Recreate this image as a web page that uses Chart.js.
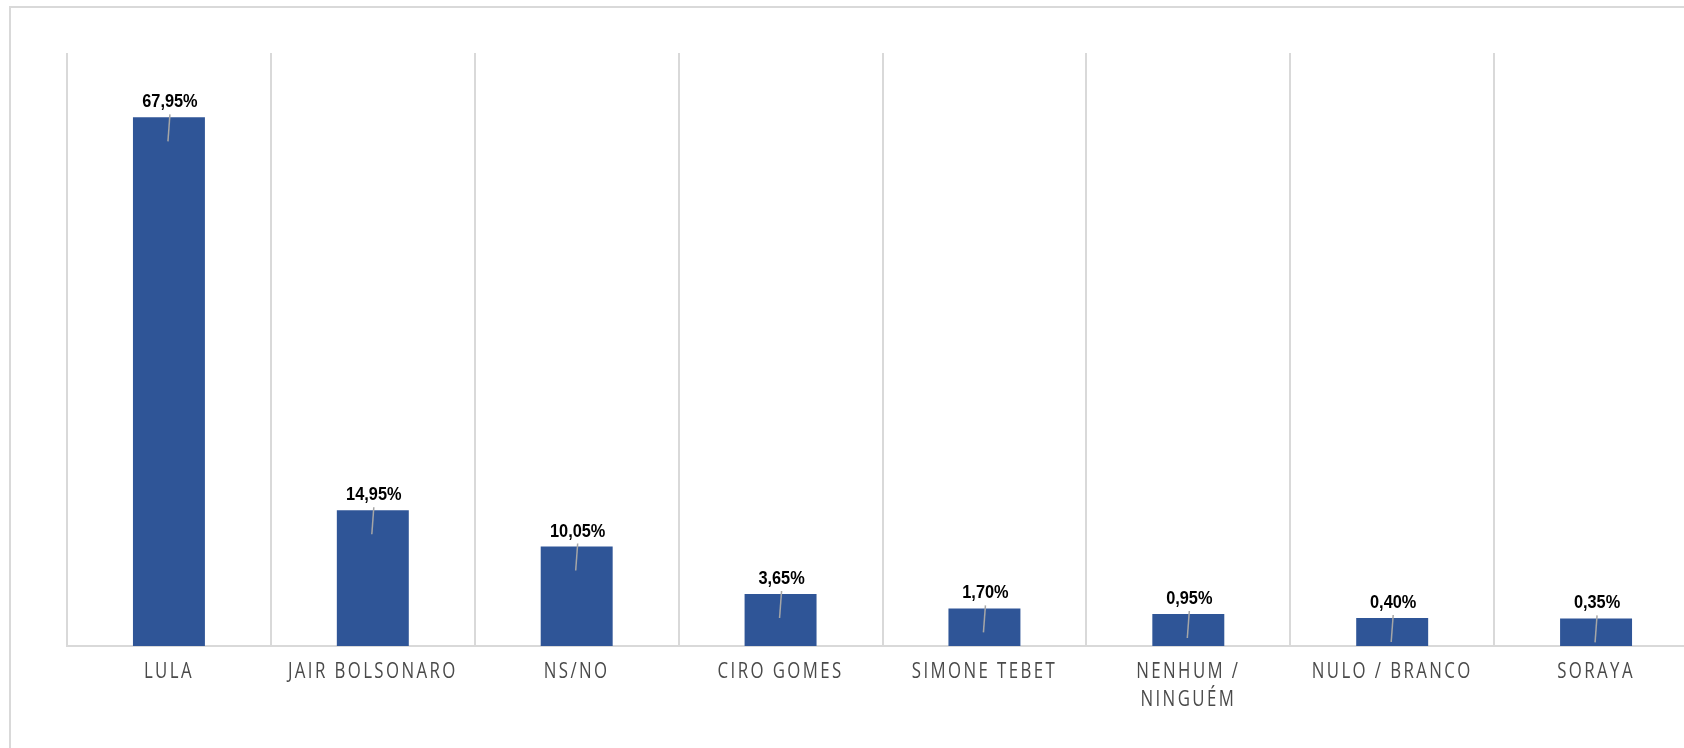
<!DOCTYPE html>
<html><head><meta charset="utf-8">
<script src="https://cdn.jsdelivr.net/npm/chart.js@4.4.1/dist/chart.umd.min.js"></script>
<style>
html,body{margin:0;padding:0;background:#fff;overflow:hidden;width:1684px;height:748px;}
#frame{position:absolute;left:9px;top:6px;width:2000px;height:2000px;border-left:2px solid #d9d9d9;border-top:2px solid #d9d9d9;}
#c{position:absolute;left:0;top:0;}
</style></head><body>
<div id="frame"></div>
<canvas id="c" width="1720" height="748"></canvas>
<script>
// ---- data ----
const categories = ['LULA', 'JAIR BOLSONARO', 'NS/NO', 'CIRO GOMES', 'SIMONE TEBET', ['NENHUM /', 'NINGUÉM'], 'NULO / BRANCO', 'SORAYA'];
const values = [67.95, 14.95, 10.05, 3.65, 1.70, 0.95, 0.40, 0.35];
const axisMin = -3.37;
const axisMax = 76.63;

const fmt = v => v.toFixed(2).replace('.', ',') + '%';

// horizontally condensed, letter-spaced x tick labels
const squeezePlugin = {
  id: 'squeeze',
  afterLayout(chart) {
    const sc = chart.scales.x;
    if (sc.$patched) return;
    const orig = sc.drawLabels;
    sc.drawLabels = function (area) {
      const ctx = this.ctx;
      const of = ctx.fillText;
      const prevLS = ctx.letterSpacing;
      ctx.letterSpacing = '3px';
      ctx.fillText = function (t, x, y, mw) {
        ctx.save();
        ctx.translate(x, y);
        ctx.scale(0.8, 1);
        of.call(ctx, t, 0, 0);
        ctx.restore();
      };
      try { orig.call(this, area); }
      finally { ctx.fillText = of; ctx.letterSpacing = prevLS || '0px'; }
    };
    sc.$patched = true;
  }
};

const labelPlugin = {
  id: 'valueLabels',
  afterDatasetsDraw(chart) {
    const ctx = chart.ctx;
    const meta = chart.getDatasetMeta(0);
    meta.data.forEach((bar, i) => {
      const x = bar.x, y = bar.y;
      ctx.save();
      ctx.strokeStyle = '#a6a6a6';
      ctx.lineWidth = 1.5;
      ctx.beginPath();
      ctx.moveTo(x + 1, y - 3);
      ctx.lineTo(x - 1, y + 24);
      ctx.stroke();
      ctx.translate(x + 1, y - 10);
      ctx.scale(0.86, 1);
      ctx.font = 'bold 19px "Liberation Sans", Arial, sans-serif';
      ctx.fillStyle = '#000';
      ctx.textAlign = 'center';
      ctx.textBaseline = 'alphabetic';
      ctx.fillText(fmt(values[i]), 0, 0);
      ctx.restore();
    });
  }
};

new Chart(document.getElementById('c'), {
  type: 'bar',
  data: {
    labels: categories,
    datasets: [{
      data: values,
      backgroundColor: '#2F5597',
      borderWidth: 0,
      base: axisMin,
      barPercentage: 0.353,
      categoryPercentage: 1
    }]
  },
  options: {
    responsive: false,
    animation: false,
    devicePixelRatio: 1,
    layout: { padding: { left: 67, top: 53, right: 22, bottom: 0 } },
    plugins: { legend: { display: false }, tooltip: { enabled: false } },
    scales: {
      x: {
        grid: { color: '#d9d9d9', lineWidth: 2, drawTicks: false, offset: true },
        border: { color: '#d9d9d9', width: 2 },
        ticks: {
          color: '#4a4a4a',
          font: { family: '"Open Sans", sans-serif', size: 21, lineHeight: 1.33 },
          padding: 12, maxRotation: 0, minRotation: 0, autoSkip: false
        },
        afterFit: s => { s.height = 102; }
      },
      y: { display: false, min: axisMin, max: axisMax }
    }
  },
  plugins: [squeezePlugin, labelPlugin]
});
</script>
</body></html>
